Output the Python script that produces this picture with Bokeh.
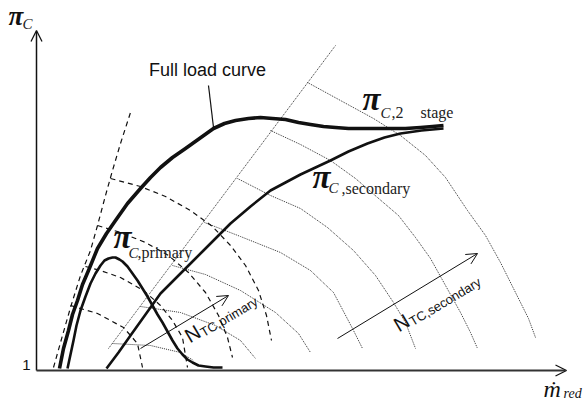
from bokeh.plotting import figure
from bokeh.models import Range1d, Arrow, OpenHead
from bokeh.core.properties import value
from bokeh.embed import file_html
from bokeh.resources import INLINE
import math

# Schematic compressor map: reduced mass flow (x) vs pressure ratio (y),
# origin at the axis corner (pressure ratio 1).

# Two-stage full load curve
full_load_x = [23, 27, 32, 36, 41, 46, 52, 61, 70, 79, 91, 104, 114, 124, 136, 149, 163, 177,
               188, 199, 212, 224, 236, 249, 262, 274, 287, 299, 312, 324, 339, 354, 369, 384, 396, 407]
full_load_y = [2, 22, 40, 56, 70, 86, 100, 122, 137, 150, 167, 182, 193, 203, 213, 222, 232, 242,
               247, 250, 252, 253, 252, 251, 248, 246, 244, 243, 242, 242, 242, 242, 242, 243, 244, 245]

# Primary (high pressure) stage curve
primary_x = [31, 34, 37, 40, 44, 49, 54, 59, 64, 68, 72, 76, 79, 83, 86, 91, 96, 101, 106, 111,
             116, 121, 126, 131, 136, 141, 146, 151, 156, 162, 169, 177, 186]
primary_y = [2, 16, 30, 45, 60, 74, 87, 97, 105, 110, 112, 113, 113, 111, 109, 104, 97, 90, 82, 74,
             65, 56, 48, 39, 30, 22, 16, 11, 8, 5, 4, 3, 3]

# Secondary (low pressure) stage curve
secondary_x = [70, 82, 94, 109, 124, 134, 144, 155, 167, 180, 194, 214, 234, 249, 264, 279, 294,
               312, 331, 348, 364, 385, 407]
secondary_y = [2, 18, 35, 56, 77, 87, 97, 108, 120, 133, 147, 164, 180, 188, 196, 203, 210,
               219, 227, 233, 237, 240, 242]

# Primary surge line
surge_p_x = [17, 26, 34, 44, 54, 61, 69, 76, 84, 94]
surge_p_y = [3, 35, 63, 95, 120, 145, 175, 200, 227, 258]

# Primary speed lines (dashed)
speed_p = [
    ([74, 104, 129, 154, 176, 194, 209, 222, 230, 235],
     [192, 184, 174, 160, 144, 125, 105, 80, 55, 30]),
    ([61, 84, 109, 132, 152, 169, 182, 191, 196],
     [145, 138, 128, 115, 98, 78, 55, 33, 13]),
    ([49, 64, 84, 107, 124, 136, 146, 151],
     [104, 100, 93, 80, 65, 50, 33, 3]),
    ([34, 61, 87, 101, 106],
     [65, 57, 43, 27, 3]),
]

# Secondary surge line
surge_s_x = [72, 299]
surge_s_y = [22, 325]

# Secondary speed lines (dotted)
speed_s = [
    ([271, 304, 337, 364, 389, 409, 431, 449, 464, 479, 492, 499],
     [288, 270, 252, 235, 215, 193, 160, 135, 108, 78, 52, 33]),
    ([234, 264, 294, 319, 341, 362, 379, 394, 409, 424, 434, 441],
     [240, 226, 210, 192, 173, 155, 133, 112, 85, 58, 38, 22]),
    ([201, 234, 264, 291, 317, 339, 357, 369, 379],
     [192, 175, 162, 143, 120, 95, 68, 48, 22]),
    ([168, 204, 244, 274, 297, 316, 326],
     [148, 134, 118, 100, 78, 42, 22]),
    ([136, 169, 204, 239, 262, 274],
     [105, 96, 80, 58, 37, 18]),
    ([104, 144, 179, 204, 219],
     [64, 58, 45, 30, 12]),
    ([76, 114, 144, 157],
     [27, 25, 18, 10]),
]

p = figure(width=585, height=412, x_range=Range1d(-36, 549), y_range=Range1d(-42, 370),
           output_backend="svg", toolbar_location=None, min_border=0,
           x_axis_type=None, y_axis_type=None)
p.grid.visible = False
p.outline_line_color = None
p.background_fill_color = "white"

# speed lines
for xs, ys in speed_s:
    p.line(xs, ys, line_color="#333333", line_width=1, line_dash="1 1")
p.line(surge_s_x, surge_s_y, line_color="#333333", line_width=1, line_dash="1 1")
for xs, ys in speed_p:
    p.line(xs, ys, line_color="#111111", line_width=1.2, line_dash="5 4")
p.line(surge_p_x, surge_p_y, line_color="#111111", line_width=1.2, line_dash="5 4")

# stage curves
p.line(secondary_x, secondary_y, line_color="#111111", line_width=2.6, line_join="round")
p.line(primary_x, primary_y, line_color="#111111", line_width=2.6, line_join="round")
p.line(full_load_x, full_load_y, line_color="#111111", line_width=3.6, line_join="round")

# leader for the full load label
p.line([172, 177], [285, 243], line_color="#111111", line_width=1.2)

# axes with open arrow heads
p.add_layout(Arrow(end=OpenHead(size=11, line_width=1.3, line_color="#111111"),
                   x_start=0, y_start=0, x_end=0, y_end=340,
                   line_width=1.5, line_color="#111111"))
p.add_layout(Arrow(end=OpenHead(size=11, line_width=1.3, line_color="#111111"),
                   x_start=0, y_start=0, x_end=530, y_end=0,
                   line_width=2, line_color="#333333"))

# speed direction arrows
p.add_layout(Arrow(end=OpenHead(size=11, line_width=1, line_color="#111111"),
                   x_start=104, y_start=22, x_end=192, y_end=75,
                   line_width=1, line_color="#111111"))
p.add_layout(Arrow(end=OpenHead(size=11, line_width=1, line_color="#111111"),
                   x_start=301, y_start=32, x_end=441, y_end=117,
                   line_width=1, line_color="#111111"))

sans = value("Liberation Sans")
serif = value("Liberation Serif")

p.text(x=[171], y=[301], text=["Full load curve"], text_font=sans, text_font_size="18px",
       text_align="center", text_baseline="middle", text_color="#111111")
p.text(x=[-10], y=[6], text=["1"], text_font=sans, text_font_size="15px",
       text_align="center", text_baseline="middle", text_color="#111111")

# pi symbols
p.text(x=[326, 276, 77], y=[272, 194, 134], text=["π", "π", "π"], text_font=serif,
       text_font_style="bold italic", text_font_size="33px", text_align="left",
       text_baseline="middle", text_color="#111111")
p.text(x=[-28], y=[355], text=["π"], text_font=serif, text_font_style="bold italic",
       text_font_size="27px", text_align="left", text_baseline="middle", text_color="#111111")
# subscripts
p.text(x=[344, 292, 92, -14], y=[258, 183, 118, 347], text=["C", "C", "C", "C"], text_font=serif,
       text_font_style="italic", text_font_size="15px", text_align="left",
       text_baseline="middle", text_color="#222222")
p.text(x=[355, 384, 305, 101], y=[258, 258, 182, 118], text=[",2", "stage", ",secondary", ",primary"],
       text_font=serif, text_font_size="16px", text_align="left",
       text_baseline="middle", text_color="#222222")

# mass flow label
p.text(x=[507], y=[-18], text=["ṁ"], text_font=serif, text_font_style="italic",
       text_font_size="24px", text_align="left", text_baseline="middle", text_color="#111111")
p.text(x=[527], y=[-23], text=["red"], text_font=serif, text_font_style="italic",
       text_font_size="14px", text_align="left", text_baseline="middle", text_color="#111111")

# rotated speed labels
ang = math.radians(31)
p.text(x=[150, 359], y=[33, 44], text=["N", "N"], text_font=sans, text_font_size="20px",
       angle=ang, text_align="left", text_baseline="alphabetic", text_color="#111111")
p.text(x=[165, 374], y=[37, 48], text=["TC,primary", "TC,secondary"], text_font=sans,
       text_font_size="13px", angle=ang, text_align="left", text_baseline="alphabetic",
       text_color="#111111")

open("out.html", "w").write(file_html(p, INLINE))
